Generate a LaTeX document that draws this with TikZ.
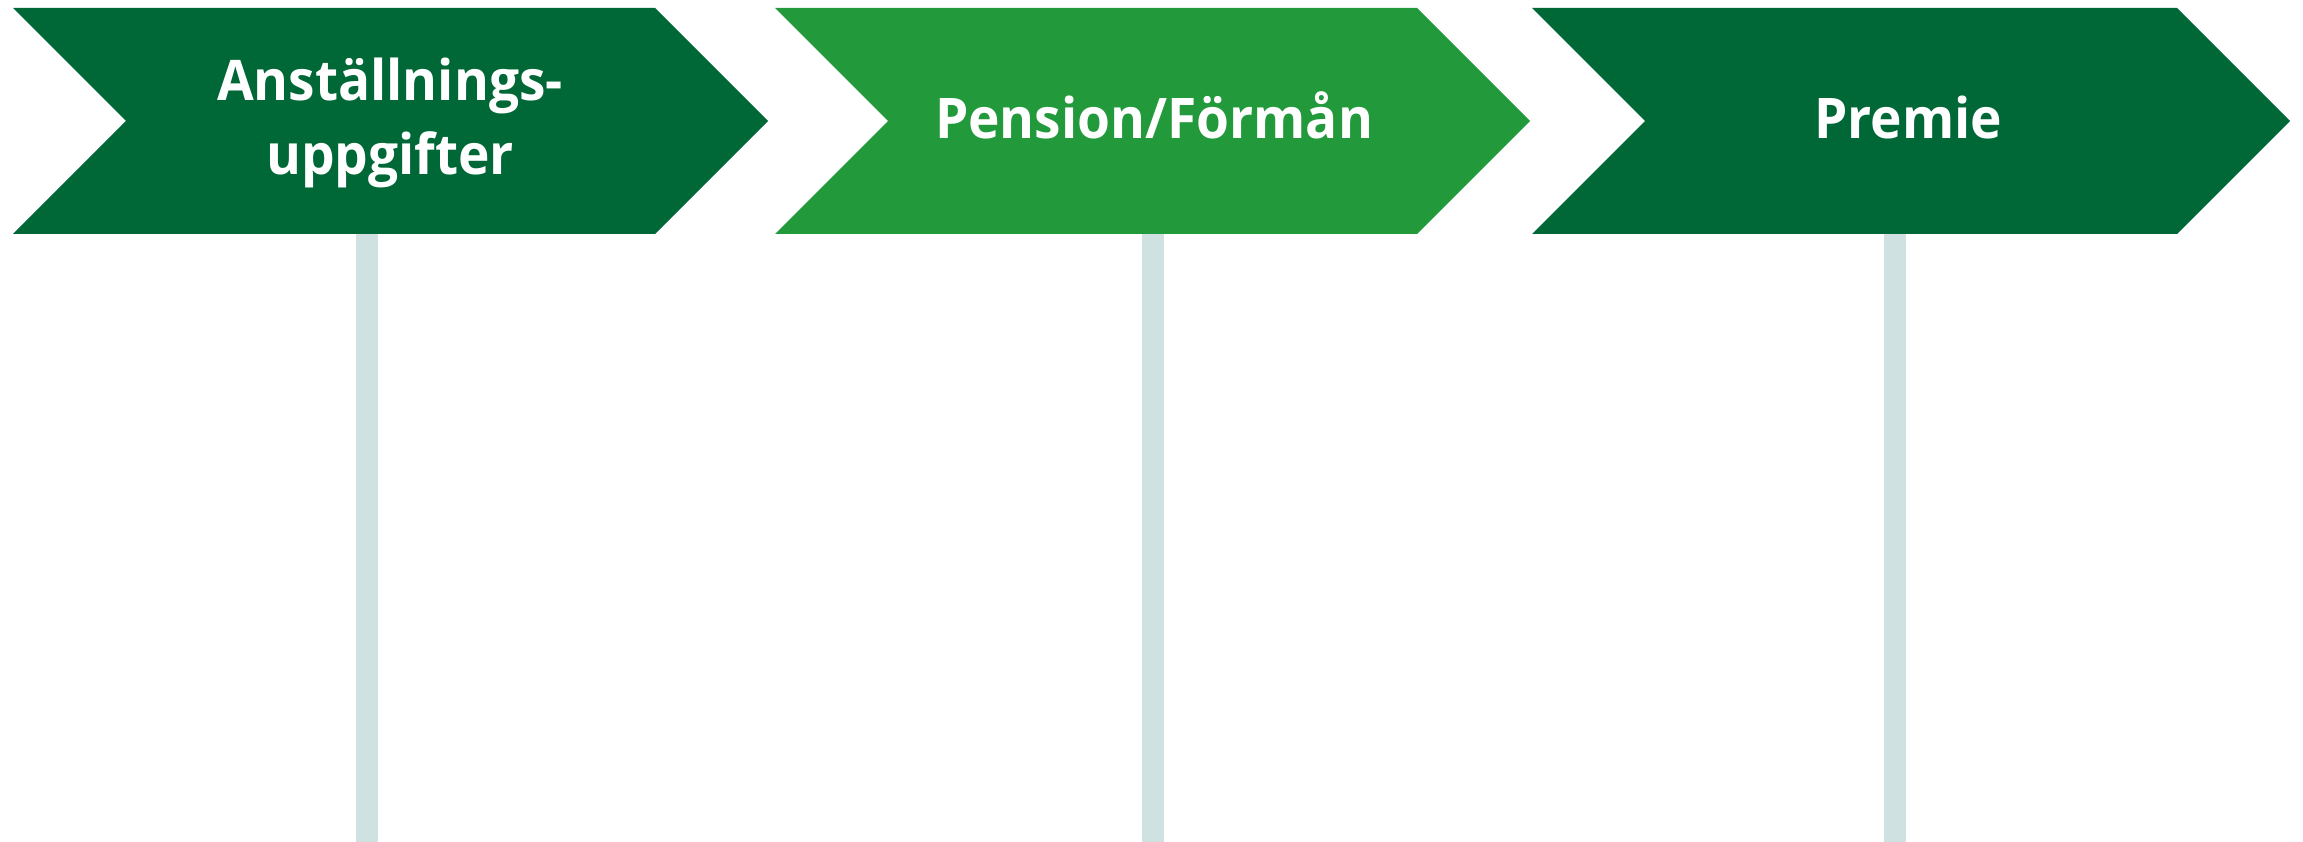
\documentclass[tikz,border=0pt]{standalone}
\usepackage{fontspec}
\setmainfont{Open Sans}[FakeStretch=0.95]
\definecolor{darkgr}{RGB}{0,104,55}
\definecolor{lightgr}{RGB}{34,153,59}
\definecolor{polec}{RGB}{207,225,224}
\begin{document}
\begin{tikzpicture}[x=1pt,y=-1pt,
  lbl/.style={text=white,font=\fontsize{56}{74}\selectfont\bfseries,inner sep=0pt,anchor=base},
  pole/.style={fill=polec,draw=none}]
\useasboundingbox (0,0) rectangle (2303,842);
% poles
\fill[polec] (356,230) rectangle (378,842);
\fill[polec] (1142,230) rectangle (1164,842);
\fill[polec] (1884,230) rectangle (1906,842);
% chevrons
\fill[darkgr] (13,8) -- (655,8) -- (768,121) -- (655,234) -- (13,234) -- (126,121) -- cycle;
\fill[lightgr] (775,8) -- (1417,8) -- (1530,121) -- (1417,234) -- (775,234) -- (888,121) -- cycle;
\fill[darkgr] (1532,8) -- (2177,8) -- (2290,121) -- (2177,234) -- (1532,234) -- (1645,121) -- cycle;
% labels
\node[lbl] (a1) at (390,101) {Anställnings-};
\node[lbl] (a2) at (390,174.5) {uppgifter};
\node[lbl] (b) at (1154,138.3) {Pension/Förmån};
\node[lbl] (c) at (1908,139) {Premie};
\end{tikzpicture}
\end{document}
